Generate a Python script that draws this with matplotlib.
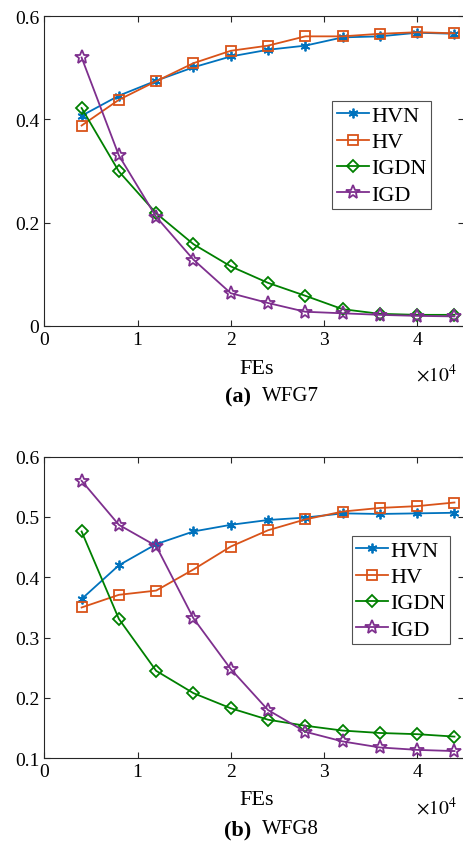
import numpy as np
import matplotlib.pyplot as plt

plt.rcParams['font.family'] = ['Liberation Serif', 'DejaVu Serif']
plt.rcParams['mathtext.fontset'] = 'stix'

# FEs for both problems
fes = [4000, 8000, 12000, 16000, 20000, 24000, 28000, 32000, 36000, 40000, 44000]

# WFG7
wfg7_hvn = [0.407, 0.446, 0.475, 0.501, 0.522, 0.535, 0.543, 0.559, 0.561, 0.568, 0.566]
wfg7_hv = [0.388, 0.438, 0.474, 0.509, 0.533, 0.543, 0.561, 0.561, 0.566, 0.569, 0.567]
wfg7_igdn = [0.422, 0.299, 0.218, 0.158, 0.115, 0.083, 0.058, 0.032, 0.023, 0.021, 0.021]
wfg7_igd = [0.520, 0.330, 0.211, 0.128, 0.063, 0.044, 0.027, 0.024, 0.021, 0.019, 0.018]

# WFG8
wfg8_hvn = [0.364, 0.420, 0.455, 0.476, 0.487, 0.495, 0.499, 0.506, 0.505, 0.506, 0.507]
wfg8_hv = [0.350, 0.371, 0.378, 0.413, 0.451, 0.478, 0.496, 0.509, 0.515, 0.518, 0.524]
wfg8_igdn = [0.476, 0.331, 0.245, 0.208, 0.183, 0.164, 0.154, 0.146, 0.142, 0.140, 0.136]
wfg8_igd = [0.560, 0.487, 0.452, 0.332, 0.248, 0.180, 0.144, 0.128, 0.118, 0.114, 0.112]

names = ['HVN', 'HV', 'IGDN', 'IGD']
colors = ['#0072BD', '#D95319', '#008000', '#7E2F8E']
markers = [(6, 2, 0), 's', 'D', '*']
msizes = [7, 6.5, 6.5, 10]

x = np.array(fes) / 1e4

fig = plt.figure(figsize=(4.63, 8.45), dpi=100)
ax1 = fig.add_axes([0.0957, 0.6134, 0.906, 0.3662])
ax2 = fig.add_axes([0.0957, 0.1014, 0.906, 0.357])


def draw(ax, series, ylim, yticks, legpos):
    for s, name, c, m, ms in zip(series, names, colors, markers, msizes):
        ax.plot(x, s, color=c, lw=1.3, marker=m, ms=ms, mfc='none',
                mec=c, mew=1.3, label=name)
    ax.set_xlim(0, 4.5)
    ax.set_ylim(*ylim)
    ax.set_xticks([0, 1, 2, 3, 4])
    ax.set_yticks(yticks)
    ax.set_yticklabels(['0' if t == 0 else '%.1f' % t for t in yticks])
    ax.tick_params(direction='in', top=True, right=True, labelsize=14,
                   length=4, width=0.8, color='#262626')
    for sp in ax.spines.values():
        sp.set_color('#262626')
        sp.set_linewidth(0.8)
    leg = ax.legend(loc='lower left', bbox_to_anchor=legpos, fontsize=16,
                    frameon=True, fancybox=False, edgecolor='#262626',
                    handlelength=1.45, handletextpad=0.1, labelspacing=0.25,
                    borderpad=0.2, borderaxespad=0)
    leg.get_frame().set_linewidth(0.8)


draw(ax1, [wfg7_hvn, wfg7_hv, wfg7_igdn, wfg7_igd], (0, 0.6),
     [0, 0.2, 0.4, 0.6], (0.686, 0.377))
draw(ax2, [wfg8_hvn, wfg8_hv, wfg8_igdn, wfg8_igd], (0.1, 0.6),
     [0.1, 0.2, 0.3, 0.4, 0.5, 0.6], (0.733, 0.379))

# x labels, exponent and captions
for ylab, yexp, ycap, tag, prob in [(369, 375, 397, '(a)', 'WFG7'),
                                    (801, 808, 830, '(b)', 'WFG8')]:
    fig.text(257 / 463, 1 - ylab / 845, 'FEs', ha='center', va='center', fontsize=16)
    fig.text(457 / 463, 1 - yexp / 845, r'$\times 10^4$', ha='right', va='center',
             fontsize=14)
    fig.text(251 / 463, 1 - ycap / 845, tag, ha='right', va='center', fontsize=16,
             fontweight='bold')
    fig.text(262 / 463, 1 - ycap / 845, prob, ha='left', va='center', fontsize=15)

fig.savefig('out.png', dpi=100)
